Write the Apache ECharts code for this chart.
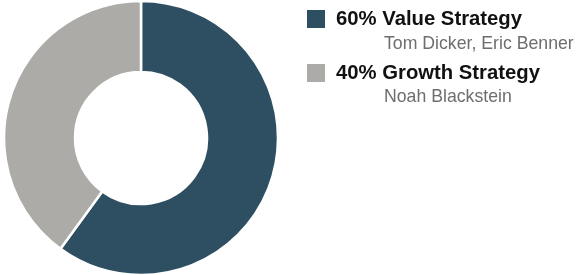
<!DOCTYPE html>
<html>
<head>
<meta charset="utf-8">
<script src="https://cdn.jsdelivr.net/npm/echarts@6/dist/echarts.min.js"></script>
<style>
html,body{margin:0;padding:0;background:#fff;}
#chart{width:576px;height:275px;}
</style>
</head>
<body>
<div id="chart"></div>
<script>
const categories = ['Value Strategy', 'Growth Strategy'];
const values = [60, 40];
const managers = ['Tom Dicker, Eric Benner', 'Noah Blackstein'];
const colors = ['#2e4f61', '#adaba7'];

const FONT = 'Liberation Sans, Arial, Helvetica, sans-serif';
const legendTops = [3, 57];
const subTops = [35, 88];

const chart = echarts.init(document.getElementById('chart'), null, {renderer: 'canvas'});
chart.setOption({
  animation: false,
  color: colors,
  legend: categories.map((c, i) => ({
    data: [c],
    orient: 'vertical',
    left: 300,
    top: legendTops[i],
    padding: 5,
    icon: 'rect',
    itemWidth: 20,
    itemHeight: 20,
    selectedMode: false,
    formatter: name => '{t|' + values[categories.indexOf(name)] + '% ' + name + '}',
    textStyle: {
      rich: {
        t: {fontFamily: FONT, fontSize: 20.3, fontWeight: 'bold', color: '#111111', padding: [0, 0, 0, 5]}
      }
    }
  })),
  graphic: managers.map((m, i) => ({
    type: 'text',
    left: 384,
    top: subTops[i],
    silent: true,
    style: {text: m, fontFamily: FONT, fontSize: 17.7, fill: '#6e6e6e'}
  })),
  series: [{
    type: 'pie',
    center: [141, 138],
    radius: [66, 137],
    startAngle: 90,
    clockwise: true,
    silent: true,
    label: {show: false},
    labelLine: {show: false},
    itemStyle: {borderColor: '#ffffff', borderWidth: 2.5},
    data: categories.map((c, i) => ({name: c, value: values[i]}))
  }]
});
</script>
</body>
</html>
